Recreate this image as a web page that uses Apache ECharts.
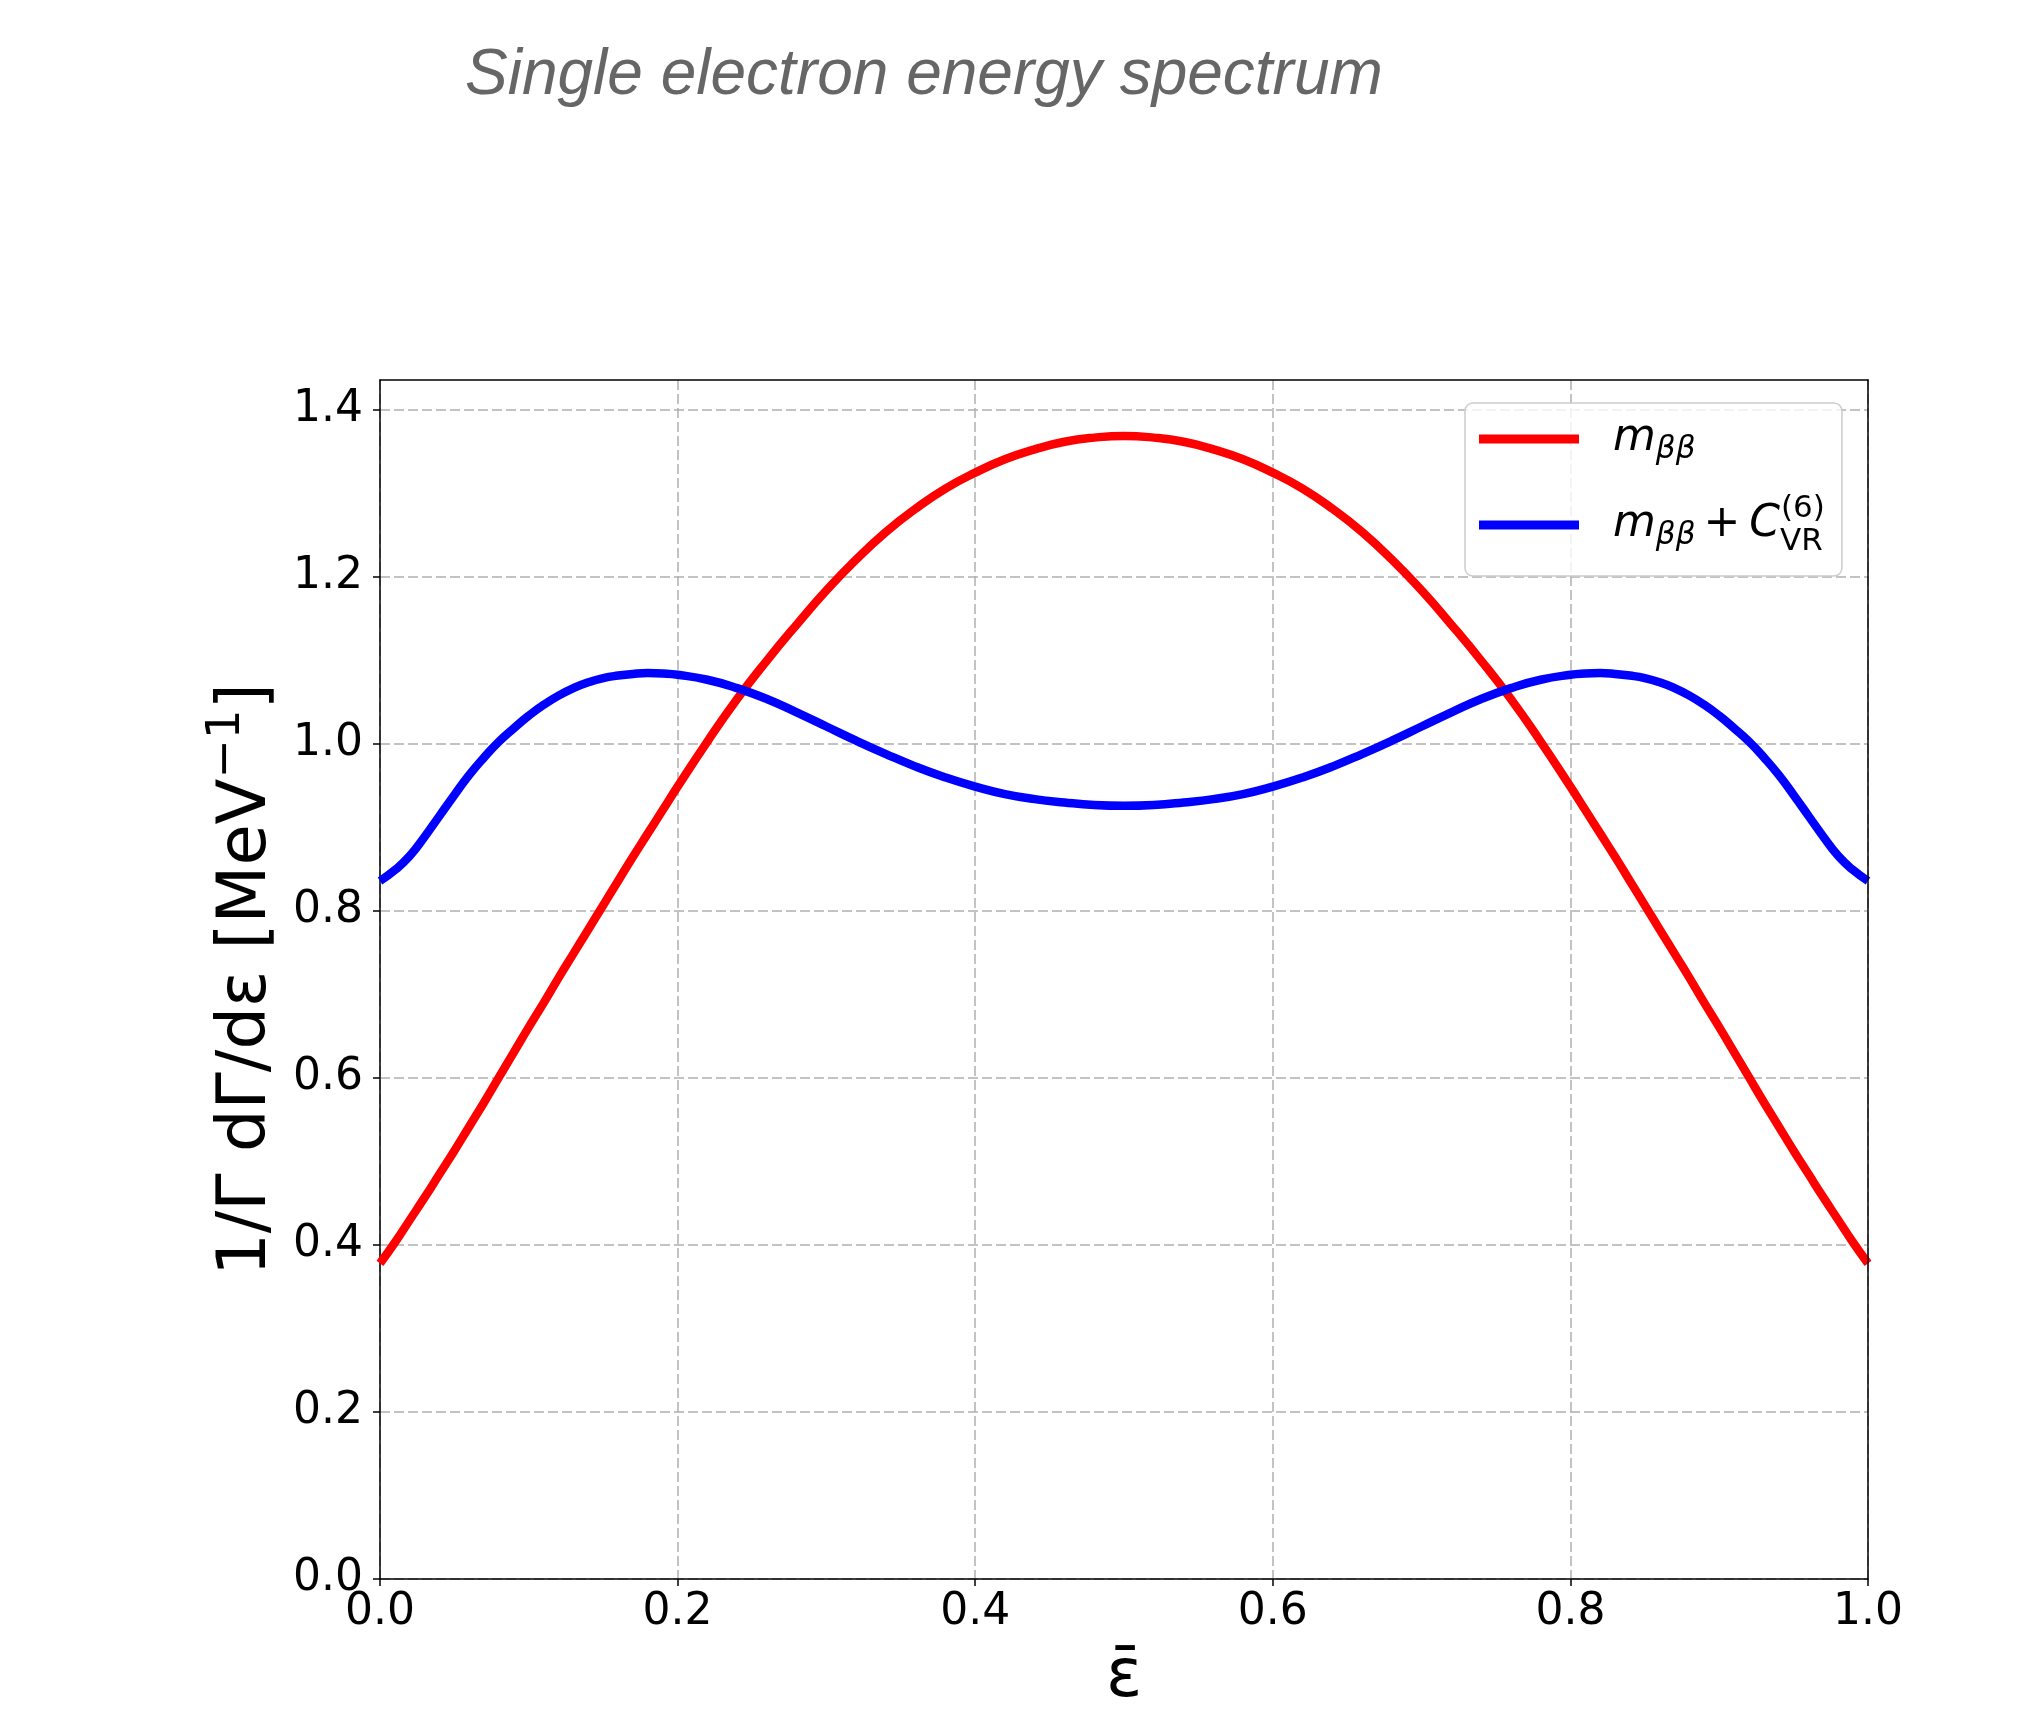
<!DOCTYPE html>
<html><head><meta charset="utf-8">
<script src="https://cdn.jsdelivr.net/npm/echarts@6/dist/echarts.min.js"></script>
<style>html,body{margin:0;padding:0;background:#fff}#c{width:2027px;height:1729px}</style>
</head><body><div id="c"></div>
<script>
// x positions (epsilon bar)
const xValues = [0.00,0.01,0.02,0.03,0.04,0.05,0.06,0.07,0.08,0.09,0.10,0.11,0.12,0.13,0.14,0.15,0.16,0.17,0.18,0.19,0.20,
                 0.22,0.24,0.26,0.28,0.30,0.32,0.34,0.36,0.38,0.40,0.42,0.44,0.46,0.48,0.50,
                 0.52,0.54,0.56,0.58,0.60,0.62,0.64,0.66,0.68,0.70,0.72,0.74,0.76,0.78,
                 0.80,0.81,0.82,0.83,0.84,0.85,0.86,0.87,0.88,0.89,0.90,0.91,0.92,0.93,0.94,0.95,0.96,0.97,0.98,0.99,1.00];
// m_bb spectrum (red)
const mbbValues = [0.378,0.403,0.430,0.457,0.485,0.513,0.542,0.571,0.601,0.631,0.661,0.690,0.720,0.749,0.778,0.807,0.836,0.865,0.893,0.921,0.949,
                   1.003,1.054,1.100,1.143,1.184,1.221,1.254,1.282,1.306,1.325,1.341,1.353,1.362,1.367,1.369,
                   1.367,1.362,1.353,1.341,1.325,1.306,1.282,1.254,1.221,1.184,1.143,1.100,1.054,1.003,
                   0.949,0.921,0.893,0.865,0.836,0.807,0.778,0.749,0.720,0.690,0.661,0.631,0.601,0.571,0.542,0.513,0.485,0.457,0.430,0.403,0.378];
// m_bb + C_VR^(6) spectrum (blue)
const mbbCvrValues = [0.836,0.849,0.866,0.889,0.914,0.939,0.963,0.984,1.003,1.019,1.034,1.047,1.058,1.067,1.074,1.079,1.082,1.084,1.085,1.0845,1.083,
                      1.077,1.067,1.054,1.038,1.021,1.004,0.988,0.973,0.960,0.949,0.940,0.934,0.930,0.927,0.926,
                      0.927,0.930,0.934,0.940,0.949,0.960,0.973,0.988,1.004,1.021,1.038,1.054,1.067,1.077,
                      1.083,1.0845,1.085,1.084,1.082,1.079,1.074,1.067,1.058,1.047,1.034,1.019,1.003,0.984,0.963,0.939,0.914,0.889,0.866,0.849,0.836];
const yTicks = [0.0,0.2,0.4,0.6,0.8,1.0,1.2,1.4];
const xTicks = [0.0,0.2,0.4,0.6,0.8,1.0];
const seriesNames = ['mbb','mbbCvr'];
const titleText = 'Single electron energy spectrum';

const chart = echarts.init(document.getElementById('c'), null, {renderer:'canvas'});
const F = 'DejaVu Sans';
const mk = (vals) => xValues.map((x,i)=>[x, vals[i]]);
const legendText = {
  mbb: '{m0|m}{sub|ββ}',
  mbbCvr: '{m0|m}{sub|ββ}{op|+}{m|C}{sub2|VR}{sup|(6)}'
};
const frameAxis = {
  type:'value', min:0, axisLine:{show:true, onZero:false, lineStyle:{color:'#000', width:1.5}},
  axisTick:{show:false}, axisLabel:{show:false}, splitLine:{show:false}, z:6
};
chart.setOption({
  animation:false,
  backgroundColor:'#ffffff',
  title:{
    text:titleText, left:465, top:44, padding:0,
    textStyle:{fontFamily:'Liberation Sans', fontStyle:'italic', fontWeight:'normal', fontSize:64, color:'#666666'}
  },
  grid:{left:380, right:159, top:380, bottom:150, show:false},
  legend:{
    orient:'vertical', left:1465, top:403, padding:[6,17,19,14], itemGap:24,
    itemWidth:100, itemHeight:9, icon:'rect',
    backgroundColor:'rgba(255,255,255,0.8)', borderColor:'#cccccc', borderWidth:1.5, borderRadius:8,
    data: seriesNames,
    formatter: (n)=>legendText[n],
    textStyle:{
      color:'#000', fontFamily:F, fontSize:44, lineHeight:60,
      rich:{
        m0:{fontFamily:F, fontStyle:'italic', fontSize:44, lineHeight:60, padding:[0,0,0,29], color:'#000'},
        m:{fontFamily:F, fontStyle:'italic', fontSize:44, lineHeight:60, color:'#000'},
        sub:{fontFamily:F, fontStyle:'italic', fontSize:31, lineHeight:60, padding:[21,0,0,0], color:'#000'},
        op:{fontFamily:F, fontSize:44, lineHeight:60, padding:[0,9,0,8], color:'#000'},
        sub2:{fontFamily:F, fontSize:31, lineHeight:60, padding:[33,0,0,0], width:1, align:'left', color:'#000'},
        sup:{fontFamily:F, fontSize:31, lineHeight:60, padding:[0,0,33,0], color:'#000'}
      }
    }
  },
  xAxis:[{
    type:'value', min:0, max:1, interval:0.2,
    name:'ε\u0304', nameLocation:'middle', nameGap:66, nameMoveOverlap:false,
    nameTextStyle:{fontFamily:F, fontSize:67, color:'#000'},
    axisLine:{show:true, onZero:false, lineStyle:{color:'#000', width:1.5}},
    axisTick:{show:true, inside:false, length:7, lineStyle:{color:'#000', width:1.5}, customValues:xTicks},
    axisLabel:{fontFamily:F, fontSize:44, color:'#000', margin:12, customValues:xTicks, formatter:(v)=>v.toFixed(1)},
    splitLine:{show:true, lineStyle:{color:'#b0b0b0', width:1.5, type:[10,4]}}
  }, Object.assign({}, frameAxis, {position:'top', max:1})],
  yAxis:[{
    type:'value', min:0, max:1.436, interval:0.2,
    name:'1/Γ dΓ/dε [MeV{sup|−1}]', nameLocation:'middle', nameGap:92, nameRotate:90, nameMoveOverlap:false,
    nameTextStyle:{fontFamily:F, fontSize:67, color:'#000', lineHeight:80,
      rich:{sup:{fontFamily:F, fontSize:47, color:'#000', lineHeight:80, padding:[0,0,42,0]}}},
    axisLine:{show:true, onZero:false, lineStyle:{color:'#000', width:1.5}},
    axisTick:{show:true, inside:false, length:7, lineStyle:{color:'#000', width:1.5}, customValues:yTicks},
    axisLabel:{fontFamily:F, fontSize:44, color:'#000', margin:17, customValues:yTicks, formatter:(v)=>v.toFixed(1)},
    splitLine:{show:true, lineStyle:{color:'#b0b0b0', width:1.5, type:[10,4]}}
  }, Object.assign({}, frameAxis, {position:'right', max:1.436})],
  series:[
    {name:seriesNames[0], type:'line', xAxisIndex:0, yAxisIndex:0, data:mk(mbbValues), smooth:0.5, showSymbol:false, symbol:'none',
     lineStyle:{color:'#ff0000', width:8.5}, itemStyle:{color:'#ff0000'}, z:3},
    {name:seriesNames[1], type:'line', xAxisIndex:0, yAxisIndex:0, data:mk(mbbCvrValues), smooth:0.5, showSymbol:false, symbol:'none',
     lineStyle:{color:'#0000ff', width:8.5}, itemStyle:{color:'#0000ff'}, z:4}
  ]
});
</script></body></html>
